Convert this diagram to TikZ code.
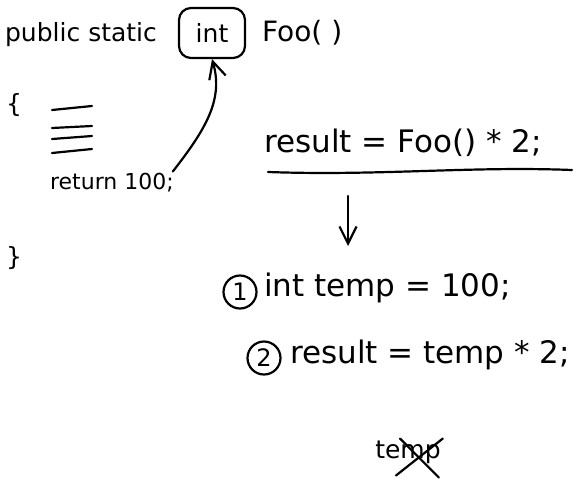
\documentclass[tikz,border=0pt]{standalone}
\usepackage{fontspec}
\setmainfont{DejaVu Sans}
\usepackage{tikz}
\usetikzlibrary{arrows.meta,positioning}
\tikzset{
hand/.style={inner sep=1pt, font=\fontsize{25}{30}\selectfont},
big/.style={hand, font=\fontsize{31}{36}\selectfont},
kbox/.style={hand, draw, line width=2.2pt, rounded corners=12pt, inner sep=4pt, minimum width=66pt, minimum height=50pt},
nbox/.style={draw, circle, line width=2.2pt, inner sep=1pt, minimum size=33pt, font=\fontsize{24}{28}\selectfont},
arr/.style={-{Straight Barb[length=6mm, width=6mm]}, line width=2.2pt}
}
\begin{document}
\begin{tikzpicture}[x=1pt, y=-1pt, line width=2.2pt, line cap=round]
\useasboundingbox (0,0) rectangle (585,490);
% method header
\node[hand, anchor=west] (pub) at (3,35) {public static};
\node[kbox] (int) at (212,33) {int};
\node[hand, anchor=west, font=\fontsize{28}{32}\selectfont] (foo) at (260,33) {Foo( )};
\node[hand] (lbr) at (14,105) {\{};
\foreach \y/\d in {110/-4, 128/-2, 139/-3, 153/-4}
\draw (52,\y) -- (92,\y+\d);
\node[hand, anchor=west, font=\fontsize{22}{26}\selectfont] (ret) at (48,183) {return 100;};
\draw[arr] ([xshift=-3pt]ret.north east) .. controls (205,130) and (224,100) .. (int.south);
\node[hand] (rbr) at (14,258) {\}};
% call site
\node[big, anchor=west] (res) at (262,143) {result = Foo() * 2;};
\coordinate (ul) at (268,172);
\coordinate (ur) at (572,170);
\draw (ul) .. controls (380,176) and (470,166) .. (ur);
\coordinate (dtop) at (348,196);
\coordinate (dbot) at (348,246);
\draw[arr] (dtop) -- (dbot);
% rewritten
\node[nbox] (n1) at (240,292) {1};
\node[big, anchor=west] (s1) at (262,288) {int temp = 100;};
\node[nbox] (n2) at (264,358) {2};
\node[big, anchor=west] (s2) at (288,355) {result = temp * 2;};
\node[hand] (tmp) at (408,452) {temp};
\draw (tmp.north east) -- ([xshift=-12pt,yshift=-10pt]tmp.south);
\draw ([xshift=-8pt]tmp.north) -- ([xshift=-4pt,yshift=-12pt]tmp.south east);
\end{tikzpicture}
\end{document}
